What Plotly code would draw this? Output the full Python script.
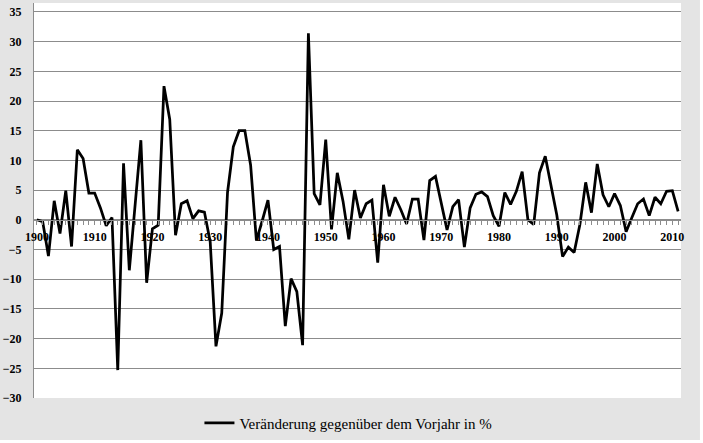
import plotly.graph_objects as go

years = list(range(1900, 2012))
values = [
    0.0, -0.3, -6.1, 3.2, -2.3, 4.9, -4.5, 11.8, 10.3, 4.5,      # 1900-1909
    4.5, 2.0, -1.0, 0.4, -25.3, 9.5, -8.5, 2.5, 13.4, -10.6,     # 1910-1919
    -1.5, -0.9, 22.5, 16.9, -2.6, 2.7, 3.2, 0.2, 1.5, 1.3,       # 1920-1929
    -3.7, -21.3, -15.7, 4.6, 12.3, 15.0, 15.0, 9.2, -3.5, -0.2,  # 1930-1939
    3.3, -5.0, -4.5, -17.9, -9.9, -12.1, -21.1, 31.4, 4.4, 2.5,  # 1940-1949
    13.5, -1.6, 7.9, 3.1, -3.3, 5.0, 0.3, 2.7, 3.3, -7.2,        # 1950-1959
    5.9, 0.6, 3.8, 1.7, -0.7, 3.5, 3.5, -3.4, 6.6, 7.3,          # 1960-1969
    2.8, -1.7, 2.2, 3.4, -4.6, 2.0, 4.3, 4.7, 3.9, 0.7,          # 1970-1979
    -1.1, 4.6, 2.6, 4.8, 8.1, 0.0, -0.8, 7.9, 10.7, 5.6,         # 1980-1989
    0.8, -6.2, -4.6, -5.5, -0.8, 6.3, 1.2, 9.4, 4.2, 2.2,        # 1990-1999
    4.4, 2.4, -2.0, 0.4, 2.7, 3.5, 0.7, 3.8, 2.7, 4.8,           # 2000-2009
    4.9, 1.4,                                                     # 2010-2011
]
x_ticks = [1900, 1910, 1920, 1930, 1940, 1950, 1960, 1970, 1980, 1990, 2000, 2010]
y_ticks = [-30, -25, -20, -15, -10, -5, 0, 5, 10, 15, 20, 25, 30, 35]
series_name = "Veränderung gegenüber dem Vorjahr in %"

W, H = 703, 443
L, R, T, B = 32, 22, 3, 45
y_min, y_max = -30, 36.5
plot_h = H - T - B
zero_pos = (0 - y_min) / (y_max - y_min)
serif = "'Liberation Serif', 'Times New Roman', Times, serif"

fig = go.Figure()
fig.add_trace(go.Scatter(
    x=years, y=values, mode="lines", name=series_name,
    line=dict(color="black", width=2.75),
))

grey = "#e4e4e4"
fig.update_layout(
    width=W, height=H,
    margin=dict(l=L, r=R, t=T, b=B, pad=0),
    paper_bgcolor=grey,
    plot_bgcolor="white",
    font=dict(family=serif),
    showlegend=True,
    legend=dict(
        orientation="h", x=0.486, xanchor="center",
        y=(0 - (423 - (H - B))) / plot_h, yanchor="middle",
        bgcolor="rgba(0,0,0,0)",
        font=dict(family=serif, size=15, color="black"),
        itemwidth=30,
    ),
    xaxis=dict(
        range=[1899.5, 2011.5],
        anchor="free", position=zero_pos,
        tickvals=x_ticks, tickformat="d",
        ticks="outside", ticklen=4, tickcolor="#8c8c8c",
        minor=dict(dtick=1, tick0=1900, ticks="outside", ticklen=4, tickcolor="#8c8c8c", showgrid=False),
        showline=True, linecolor="#8c8c8c", linewidth=1,
        showgrid=False, zeroline=False,
        tickfont=dict(family=serif, size=12, color="black", weight="bold"),
        ticklabelstandoff=2,
    ),
    yaxis=dict(
        range=[y_min, y_max],
        tickvals=y_ticks,
        showgrid=True, gridcolor="#8c8c8c", gridwidth=1,
        zeroline=False,
        showline=True, linecolor="#8c8c8c", linewidth=1,
        ticks="",
        ticklabelstandoff=9,
        tickfont=dict(family=serif, size=12, color="black", weight="bold"),
    ),
    shapes=[
        dict(type="rect", xref="paper", yref="paper",
             x0=(700 - L) / (W - L - R), x1=1.2, y0=-0.3, y1=1.2,
             fillcolor="white", line=dict(width=0), layer="above"),
        dict(type="rect", xref="paper", yref="paper",
             x0=-0.2, x1=1.2, y0=-0.3, y1=((H - B) - 440) / plot_h,
             fillcolor="white", line=dict(width=0), layer="above"),
    ],
)

fig.write_html("out.html", config={"displayModeBar": False},
               post_script="document.body.style.margin='0';")
